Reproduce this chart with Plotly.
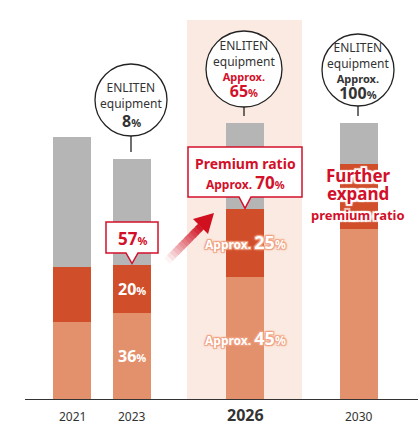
import plotly.graph_objects as go

# ---- data (index, 2023 total = 100) ----
years = ["2021", "2023", "2026", "2030"]
standard = [32, 36, 51, 71]      # light orange segment
premium = [23, 20, 28, 27]       # dark orange segment
other = [54, 44, 36, 17]         # gray segment

# ---- layout geometry ----
W, H = 418, 426
ML, MB = 25, 27
PX_PER_UNIT = 2.4
PLOT_H = H - MB
slot_x = [47, 107, 220, 334]     # bar centres along x (pixel-like axis units)
BAR_W = 38

def X(px):
    return px - ML

def Y(py):
    return (PLOT_H - py) / PX_PER_UNIT

def py_of(v):
    return PLOT_H - v * PX_PER_UNIT

C_LIGHT = "#e3916d"
C_DARK = "#d14e2b"
C_GRAY = "#b5b5b5"
C_BAND = "#fbeae1"
C_RED = "#d3102a"
C_TXT = "#333333"
FONT = "Noto Sans"

fig = go.Figure()
for vals, col, name in [(standard, C_LIGHT, "Standard"), (premium, C_DARK, "Premium"), (other, C_GRAY, "Other")]:
    fig.add_trace(go.Bar(x=slot_x, y=vals, width=BAR_W, marker=dict(color=col, line=dict(width=0)),
                         name=name, hoverinfo="skip", showlegend=False))

shapes = []
annos = []

# highlight band behind 2026
shapes.append(dict(type="rect", xref="x", yref="y", x0=X(187), x1=X(302), y0=0, y1=Y(20),
                   fillcolor=C_BAND, line=dict(width=0), layer="below"))

# bubbles
bubbles = [
    (1, 131, 100, 36),
    (2, 244, 69, 38),
    (3, 358, 70, 36),
]
for i, cx, cy, r in bubbles:
    shapes.append(dict(type="circle", xref="x", yref="y", x0=X(cx - r), x1=X(cx + r),
                       y0=Y(cy + r), y1=Y(cy - r), fillcolor="white",
                       line=dict(color="#222", width=1.3), layer="above"))
    top_py = py_of(standard[i] + premium[i] + other[i])
    shapes.append(dict(type="line", xref="x", yref="y", x0=X(cx), x1=X(cx),
                       y0=Y(cy + r), y1=Y(top_py - 7), line=dict(color="#222", width=1.3)))

def txt(px, py, text, size, color=C_TXT, shadow=None, paper=False):
    f = dict(family=FONT, size=size, color=color)
    if shadow:
        f["shadow"] = shadow
    if paper:
        yv, yr = (PLOT_H - py) / PLOT_H, "paper"
    else:
        yv, yr = Y(py), "y"
    annos.append(dict(x=X(px), y=yv, xref="x", yref=yr, text=text, showarrow=False,
                      xanchor="center", yanchor="middle", font=f))

def block(px, first_py, lines, size, color=C_TXT, shadow=None):
    # multi-line annotation; plotly line spacing = 1.3 * size
    n = len(lines)
    mid = first_py + (n - 1) / 2 * 1.3 * size
    txt(px, mid, "<br>".join(lines), size, color, shadow)

red = lambda s: f"<span style='color:{C_RED}'>{s}</span>"
pct = lambda num: f"<b><span style='font-size:16px'>{num}</span><span style='font-size:11px'>%</span></b>"
apx = "<b><span style='font-size:11px'>Approx.</span></b>"

# bubble texts
block(131, 88, ["ENLITEN", "equipment"], 12)
txt(131, 121, pct("8"), 12)
block(244, 46, ["ENLITEN", "equipment", red(apx), red(pct("65"))], 12)
block(358, 48, ["ENLITEN", "equipment", apx, pct("100")], 12)

# callout boxes
def callout(x0, x1, y0, y1, tipx, tipy):
    p = (f"M {X(x0)},{Y(y0)} L {X(x1)},{Y(y0)} L {X(x1)},{Y(y1)} L {X(tipx + 6)},{Y(y1)} "
         f"L {X(tipx)},{Y(tipy)} L {X(tipx - 6)},{Y(y1)} L {X(x0)},{Y(y1)} Z")
    shapes.append(dict(type="path", xref="x", yref="y", path=p, fillcolor="white",
                       line=dict(color=C_RED, width=1.5), layer="above"))

callout(106, 158, 222, 253, 132, py_of(standard[1] + premium[1]) - 1)
txt(132, 238, "<b>57</b><span style='font-size:11px'><b>%</b></span>", 17, C_RED)

callout(188, 302, 147, 197, 245, py_of(standard[2] + premium[2]) - 1)
block(245, 164, ["<b><span style='font-size:14px'>Premium ratio</span></b>",
                 "<b><span style='font-size:12px'>Approx. </span><span style='font-size:17px'>70</span><span style='font-size:11px'>%</span></b>"],
      15, C_RED)

# arrow (gradient shaft + head)
tail = (167, 261)
base = (201, 226.5)
n = 12
for k in range(n):
    a0 = k / n
    a1 = (k + 1.15) / n
    t = (k + 0.5) / n
    r_ = int(255 + (208 - 255) * t)
    g_ = int(255 + (16 - 255) * t)
    b_ = int(255 + (31 - 255) * t)
    shapes.append(dict(type="line", xref="x", yref="y",
                       x0=X(tail[0] + (base[0] - tail[0]) * a0), y0=Y(tail[1] + (base[1] - tail[1]) * a0),
                       x1=X(tail[0] + (base[0] - tail[0]) * min(a1, 1)), y1=Y(tail[1] + (base[1] - tail[1]) * min(a1, 1)),
                       line=dict(color=f"rgb({r_},{g_},{b_})", width=8)))
shapes.append(dict(type="path", xref="x", yref="y",
                   path=f"M {X(214)},{Y(213)} L {X(193)},{Y(219)} L {X(208)},{Y(234)} Z",
                   fillcolor="#d0101f", line=dict(width=0)))

# segment labels
halo = "-1px -1px 1px #f0a080, 1px -1px 1px #f0a080, -1px 1px 1px #f0a080, 1px 1px 1px #f0a080, 0 0 3px #f0a080"
txt(132, py_of(standard[1] + premium[1] / 2), "<b>20</b><span style='font-size:11px'><b>%</b></span>", 16, "white")
txt(132, py_of(standard[1] / 2), "<b>36</b><span style='font-size:11px'><b>%</b></span>", 16, "white")
txt(245, py_of(standard[2] + premium[2] / 2) - 1,
    "<b><span style='font-size:12px'>Approx. </span>25<span style='font-size:12px'>%</span></b>", 18, "white", halo)
txt(245, py_of(standard[2] / 2),
    "<b><span style='font-size:12px'>Approx. </span>45<span style='font-size:12px'>%</span></b>", 18, "white", halo)

whalo = "-2px -2px 1px #fff, 2px -2px 1px #fff, -2px 2px 1px #fff, 2px 2px 1px #fff, 0 2px 1px #fff, 0 -2px 1px #fff, 2px 0 1px #fff, -2px 0 1px #fff"
block(358, 176, ["<b><span style='font-size:17px'>Further</span></b>",
                 "<b><span style='font-size:17px'>expand</span></b>"], 13.5, C_RED, whalo)
txt(358, 215, "<b>premium ratio</b>", 13, C_RED, whalo)

# x tick labels
for i, y in enumerate(years):
    if y == "2026":
        txt(slot_x[i] + ML, 415, f"<b>{y}</b>", 16, C_TXT, paper=True)
    else:
        txt(slot_x[i] + ML, 416, y, 12, C_TXT, paper=True)

fig.update_layout(
    width=W, height=H, barmode="stack", bargap=0,
    margin=dict(l=ML, r=0, t=0, b=MB),
    paper_bgcolor="white", plot_bgcolor="rgba(0,0,0,0)",
    shapes=shapes, annotations=annos, showlegend=False,
    xaxis=dict(range=[0, W - ML], showgrid=False, zeroline=False, showticklabels=False,
               showline=True, linecolor="#333", linewidth=1.2, fixedrange=True),
    yaxis=dict(range=[0, PLOT_H / PX_PER_UNIT], showgrid=False, zeroline=False,
               showticklabels=False, showline=False, fixedrange=True),
    font=dict(family=FONT, color=C_TXT),
)

fig.write_html("out.html", config={"displayModeBar": False},
               post_script="document.body.style.margin='0';document.body.style.overflow='hidden';")
